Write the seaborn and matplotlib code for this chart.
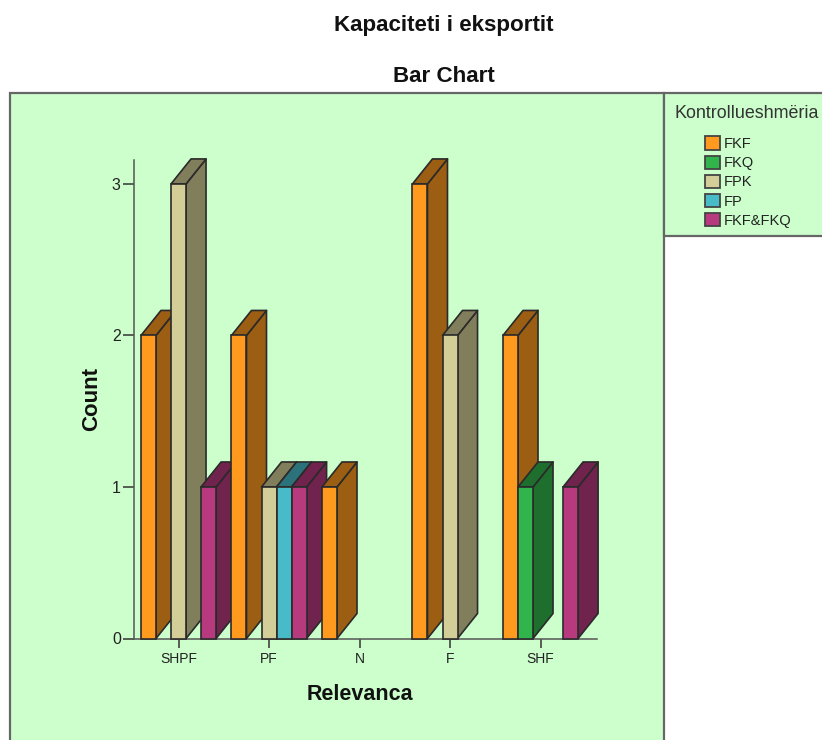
import matplotlib
matplotlib.use("Agg")
import matplotlib.pyplot as plt
from matplotlib.colors import to_rgb
from matplotlib.patches import Patch, Polygon, Rectangle
import pandas as pd
import seaborn as sns

categories = ["SHPF", "PF", "N", "F", "SHF"]
groups = ["FKF", "FKQ", "FPK", "FP", "FKF&FKQ"]
palette = ["#FF9A1E", "#31B44B", "#D3CE97", "#48BBC9", "#B83A7E"]

relevanca = ["SHPF", "SHPF", "SHPF", "PF", "PF", "PF", "PF", "N", "F", "F", "SHF", "SHF", "SHF"]
kontrolli = ["FKF", "FPK", "FKF&FKQ", "FKF", "FPK", "FP", "FKF&FKQ", "FKF", "FKF", "FPK", "FKF", "FKQ", "FKF&FKQ"]
counts = [2, 3, 1, 2, 1, 1, 1, 1, 3, 2, 2, 1, 1]

W, H = 822, 740
PANEL = "#CCFFCC"
EDGE = "#2A2A2A"
DEPTH_X, DEPTH_Y = 20, 25   # extrusion of the bars, in pixels
SHADE = 0.61

sns.set_theme(style="white")
plt.rcParams["font.family"] = ["Liberation Sans", "DejaVu Sans"]

fig = plt.figure(figsize=(W / 100, H / 100), dpi=100, facecolor="white")


def px_rect(x0, y0, x1, y1):
    """Rectangle in figure fractions from pixel corners (origin top left)."""
    return [x0 / W, 1 - y1 / H, (x1 - x0) / W, (y1 - y0) / H]


# Background panels for the plot and the legend
for x0, y0, x1, y1 in [(10, 93, 664, 745), (664, 93, 826, 236)]:
    l, b, w, h = px_rect(x0, y0, x1, y1)
    fig.add_artist(Rectangle((l, b), w, h, transform=fig.transFigure,
                             facecolor=PANEL, edgecolor="#666666", linewidth=1.6,
                             clip_on=False, zorder=0))

ax = fig.add_axes(px_rect(134, 160, 597, 638.5))
ax.patch.set_alpha(0)
ax.set_zorder(2)

data = pd.DataFrame({"Relevanca": relevanca, "Kontrollueshmeria": kontrolli, "Count": counts})
sns.barplot(data=data, x="Relevanca", y="Count", hue="Kontrollueshmeria",
            order=categories, hue_order=groups, palette=palette, saturation=1,
            width=0.83, gap=0, legend=False, ax=ax, errorbar=None)

ax.set_xlim(-0.492, 4.624)
ax.set_ylim(0, 3.158)
ax.set_yticks([0, 1, 2, 3])

# Extrude every bar, left to right, so nearer faces cover the ones behind them
x_px = 463 / (ax.get_xlim()[1] - ax.get_xlim()[0])
y_px = 478.5 / ax.get_ylim()[1]
dx, dy = DEPTH_X / x_px, DEPTH_Y / y_px
bars = [p for p in ax.patches if p.get_height() > 0]
for z, bar in enumerate(sorted(bars, key=lambda p: p.get_x())):
    x0, w, h = bar.get_x(), bar.get_width(), bar.get_height()
    base = to_rgb(bar.get_facecolor())
    dark = tuple(c * SHADE for c in base)
    face_z = 3 + z * 0.1
    style = dict(closed=True, facecolor=dark, edgecolor=EDGE, linewidth=1.2,
                 clip_on=False, joinstyle="round", zorder=face_z)
    ax.add_patch(Polygon([(x0 + w, 0), (x0 + w + dx, dy), (x0 + w + dx, h + dy), (x0 + w, h)], **style))
    ax.add_patch(Polygon([(x0, h), (x0 + dx, h + dy), (x0 + w + dx, h + dy), (x0 + w, h)], **style))
    bar.set_edgecolor(EDGE)
    bar.set_linewidth(1.2)
    bar.set_zorder(face_z + 0.05)
    bar.set_clip_on(False)

for side in ("top", "right"):
    ax.spines[side].set_visible(False)
for side in ("left", "bottom"):
    ax.spines[side].set_color("#555555")
    ax.spines[side].set_linewidth(1.1)
ax.tick_params(axis="x", length=6.5, width=1.1, color="#333333",
               labelcolor="#222222", labelsize=10, pad=3, bottom=True)
ax.tick_params(axis="y", length=8, width=1.1, color="#333333",
               labelcolor="#222222", labelsize=11.5, pad=1.5, left=True)
ax.set_xlabel("Relevanca", fontsize=15.5, fontweight="bold", color="#111111")
ax.set_ylabel("Count", fontsize=16, fontweight="bold", color="#111111")
ax.xaxis.set_label_coords((359.5 - 134) / 463, (638.5 - 684) / 478.5)
ax.yaxis.set_label_coords((102 - 134) / 463, (638.5 - 398.5) / 478.5)

fig.text(443.5 / W, 1 - 26 / H, "Kapaciteti i eksportit", ha="center", va="center",
         fontsize=16.1, fontweight="bold", color="#111111")
fig.text(443.5 / W, 1 - 77 / H, "Bar Chart", ha="center", va="center",
         fontsize=16.1, fontweight="bold", color="#111111")

handles = [Patch(facecolor=c, edgecolor="#444444", linewidth=1.3, label=g)
           for c, g in zip(palette, groups)]
fig.text(674 / W, 1 - 113 / H, "Kontrollueshmëria", ha="left", va="center",
         fontsize=12.9, color="#333333", zorder=5)
leg = fig.legend(handles=handles, loc="upper left",
                 bbox_to_anchor=(702 / W, 1 - 133.5 / H), frameon=False,
                 fontsize=10.5, handlelength=1.05, handleheight=1.05,
                 handletextpad=0.25, labelspacing=0.3, labelcolor="#222222",
                 borderpad=0.2, borderaxespad=0)
leg.set_zorder(5)

fig.savefig("out.png", dpi=100, facecolor="white")
